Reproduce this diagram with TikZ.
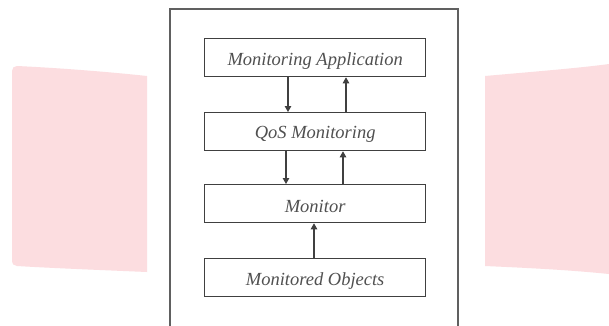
\documentclass[tikz,border=0pt]{standalone}
\usepackage{fontspec}
\setmainfont{Liberation Serif}
\usetikzlibrary{arrows.meta}
\definecolor{bandpink}{HTML}{FCDDE0}
\definecolor{linegray}{HTML}{404040}
\definecolor{textgray}{HTML}{505050}
\definecolor{framegray}{HTML}{606060}
\tikzset{
  layer/.style={draw=linegray, line width=1.3pt, fill=white, minimum width=221pt, minimum height=38pt, inner sep=0pt, anchor=north west},
  lbl/.style={font=\fontsize{18.5}{20}\selectfont\itshape, text=textgray, inner sep=0pt},
  flow/.style={draw=linegray, line width=1.1pt, -{Triangle[length=6pt,width=6.5pt]}}
}
\begin{document}
\begin{tikzpicture}[x=1pt,y=-1pt]
\useasboundingbox (0,0) rectangle (609,325);
\fill[white] (0,0) rectangle (609,325);
% background bands
\fill[bandpink] (17,66) .. controls (60,68) and (110,72) .. (147,76) -- (147,272) .. controls (100,270) and (50,268) .. (17,266) .. controls (14,266) and (12,264) .. (12,260) -- (12,71) .. controls (12,68) and (14,66) .. (17,66) -- cycle;
\fill[bandpink] (485,76) .. controls (530,72) and (580,68) .. (609,64) -- (609,274) .. controls (570,270) and (530,268) .. (485,266) -- cycle;
% outer frame
\draw[framegray, line width=1.3pt] (170,330) -- (170,9) -- (458,9) -- (458,330);
% layers
\node[layer] (app) at (204,38) {};
\node[layer] (qos) at (204,112) {};
\node[layer] (mon) at (204,184) {};
\node[layer] (obj) at (204,258) {};
\node[lbl] (tapp) at ([yshift=-3pt]app.center) {Monitoring Application};
\node[lbl] (tqos) at ([yshift=-3pt]qos.center) {QoS Monitoring};
\node[lbl] (tmon) at ([yshift=-3pt]mon.center) {Monitor};
\node[lbl] (tobj) at ([yshift=-3pt]obj.center) {Monitored Objects};
% connector anchor points
\coordinate (d1) at (288,0);
\coordinate (u1) at (346,0);
\coordinate (d2) at (286,0);
\coordinate (u2) at (343,0);
\coordinate (u3) at (314,0);
% connectors
\draw[flow] (app.south -| d1) -- (qos.north -| d1);
\draw[flow] (qos.north -| u1) -- (app.south -| u1);
\draw[flow] (qos.south -| d2) -- (mon.north -| d2);
\draw[flow] (mon.north -| u2) -- (qos.south -| u2);
\draw[flow] (obj.north -| u3) -- (mon.south -| u3);
\end{tikzpicture}
\end{document}
